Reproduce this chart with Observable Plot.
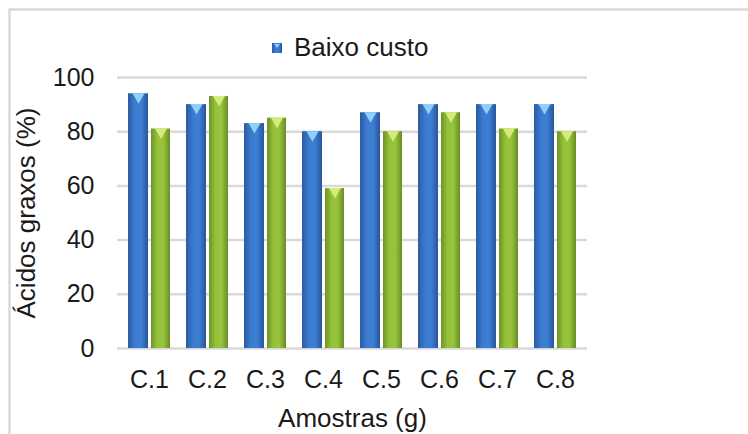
<!DOCTYPE html>
<html>
<head>
<meta charset="utf-8">
<script src="https://cdn.jsdelivr.net/npm/d3@7"></script>
<script src="https://cdn.jsdelivr.net/npm/@observablehq/plot@0.6"></script>
<style>
  html, body { margin: 0; padding: 0; background: #fff; }
  #chart { width: 748px; height: 434px; overflow: hidden; }
  #chart svg g[aria-label="y-axis label"] text, #chart svg g[aria-label="x-axis label"] text { font-size: 26px; }
</style>
</head>
<body>
<div id="chart"></div>
<script>
const categories = ["C.1", "C.2", "C.3", "C.4", "C.5", "C.6", "C.7", "C.8"];
const baixoCusto = [94, 90, 83, 80, 87, 90, 90, 90];
const serie2 = [81, 93, 85, 59, 80, 87, 81, 80];
const yTicks = [0, 20, 40, 60, 80, 100];
const legendLabel = "Baixo custo";

const blueData = categories.map((c, i) => ({cat: c, value: baixoCusto[i]}));
const greenData = categories.map((c, i) => ({cat: c, value: serie2[i]}));

const chart = Plot.plot({
  width: 748,
  height: 434,
  marginLeft: 117,
  marginRight: 161,
  marginTop: 77,
  marginBottom: 86,
  style: {fontFamily: "'Liberation Sans', Arial, sans-serif", fontSize: "25px", color: "#1a1a1a", background: "white", overflow: "visible"},
  x: {domain: categories, paddingInner: 0.28, paddingOuter: 0.14, tickSize: 0, tickPadding: 22,
      label: "Amostras (g)", labelAnchor: "center", labelOffset: 78},
  y: {domain: [0, 100], ticks: yTicks, tickSize: 0, tickPadding: 23,
      label: "Ácidos graxos (%)", labelAnchor: "center", labelOffset: 101, labelArrow: "none"},
  marks: [
    Plot.ruleY(yTicks, {stroke: "#d9d9d9", strokeWidth: 2.5}),
    Plot.barY(blueData, {x: "cat", y: "value", fill: "url(#gBlue)", insetRight: 22}),
    Plot.barY(greenData, {x: "cat", y: "value", fill: "url(#gGreen)", insetLeft: 23}),
    Plot.dot(blueData, {x: "cat", y: "value", symbol: "triangle", r: 4.5, rotate: 180, fill: "#8fd0fb", dx: -11, dy: 3}),
    Plot.dot(greenData, {x: "cat", y: "value", symbol: "triangle", r: 4.5, rotate: 180, fill: "#d4ec7a", dx: 11.5, dy: 3})
  ]
});

document.getElementById("chart").appendChild(chart);

const svg = d3.select(chart);
const defs = svg.insert("defs", ":first-child");
function grad(id, stops) {
  const g = defs.append("linearGradient").attr("id", id).attr("x1", "0").attr("x2", "1").attr("y1", "0").attr("y2", "0");
  stops.forEach(([o, c]) => g.append("stop").attr("offset", o).attr("stop-color", c));
}
grad("gBlue", [["0%", "#2a5ba3"], ["35%", "#3b7cd0"], ["65%", "#3d7fd3"], ["100%", "#28559a"]]);
grad("gGreen", [["0%", "#6d9427"], ["35%", "#96c23b"], ["65%", "#98c43d"], ["100%", "#688d24"]]);

// outer chart border
svg.insert("rect", "defs + *")
  .attr("x", 9.5).attr("y", 9.5).attr("width", 800).attr("height", 500)
  .attr("fill", "none").attr("stroke", "#d9d9d9").attr("stroke-width", 2.5);

// legend
const lg = svg.append("g").attr("class", "legend").attr("text-anchor", "start");
lg.append("rect").attr("x", 272).attr("y", 43).attr("width", 10).attr("height", 10).attr("fill", "url(#gBlue)");
lg.append("path").attr("d", "M274,44 L280,44 L277,48 Z").attr("fill", "#8fd0fb");
lg.append("text").attr("x", 294).attr("y", 56).attr("font-size", 26).attr("text-anchor", "start").attr("fill", "#1a1a1a").text(legendLabel);
</script>
</body>
</html>
